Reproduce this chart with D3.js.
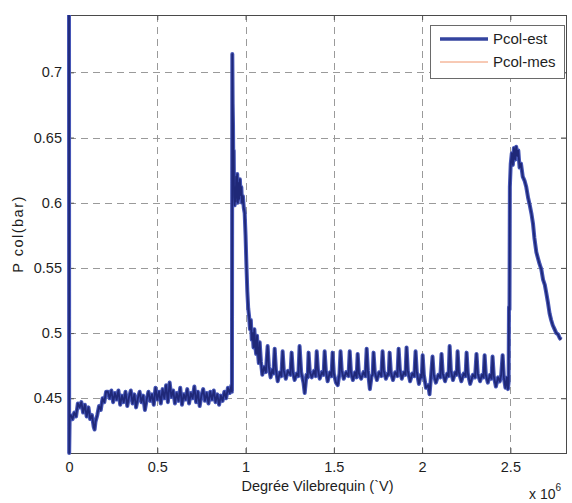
<!DOCTYPE html>
<html>
<head>
<meta charset="utf-8">
<script src="https://cdn.jsdelivr.net/npm/d3@7/dist/d3.min.js"></script>
<style>
  html, body { margin: 0; padding: 0; background: #fff; }
  svg { display: block; }
  text { font-family: "Liberation Sans", Arial, Helvetica, sans-serif; fill: #1e1e1e; }
</style>
</head>
<body>
<svg id="chart" width="572" height="503"></svg>
<script>
// ---- data (x in units of 10^6 degrees) ----
const xTicks = [0, 0.5, 1, 1.5, 2, 2.5];
const yTicks = [0.45, 0.5, 0.55, 0.6, 0.65, 0.7];
const seriesNames = ["Pcol-est", "Pcol-mes"];

const degX = [
  0.000, 0.001, 0.004, 0.01, 0.02, 0.03, 0.04, 0.05, 0.06, 0.07, 0.08, 0.09, 0.10, 0.11, 0.12, 0.13, 0.14, 0.145, 0.15,
  0.16, 0.17, 0.18, 0.19, 0.20, 0.21, 0.22, 0.23, 0.24, 0.25, 0.26, 0.27, 0.28, 0.29, 0.30, 0.31, 0.32, 0.33, 0.34,
  0.35, 0.36, 0.37, 0.38, 0.39, 0.40, 0.41, 0.42, 0.43, 0.44, 0.45, 0.46, 0.47, 0.48, 0.49, 0.50, 0.51, 0.52, 0.53,
  0.54, 0.55, 0.56, 0.57, 0.58, 0.59, 0.60, 0.61, 0.62, 0.63, 0.64, 0.65, 0.66, 0.67, 0.68, 0.69, 0.70, 0.71, 0.72,
  0.73, 0.74, 0.75, 0.76, 0.77, 0.78, 0.79, 0.80, 0.81, 0.82, 0.83, 0.84, 0.85, 0.86, 0.87, 0.88, 0.89, 0.90, 0.91,
  0.920, 0.923, 0.925, 0.927, 0.929, 0.931, 0.933, 0.935, 0.938, 0.941, 0.944, 0.947, 0.950, 0.953, 0.956, 0.960,
  0.964, 0.968, 0.972, 0.976, 0.980, 0.985, 0.990, 0.995, 1.000, 1.005, 1.010, 1.015, 1.020, 1.025, 1.030, 1.035,
  1.040, 1.045, 1.050, 1.055, 1.060, 1.065, 1.070, 1.075, 1.080, 1.087, 1.095, 1.105, 1.115, 1.125, 1.132, 1.142,
  1.152, 1.158, 1.165, 1.172, 1.182, 1.195, 1.203, 1.210, 1.217, 1.228, 1.240, 1.254, 1.261, 1.268, 1.278, 1.290,
  1.299, 1.306, 1.315, 1.328, 1.335, 1.345, 1.352, 1.357, 1.364, 1.375, 1.388, 1.397, 1.403, 1.410, 1.420, 1.433,
  1.442, 1.448, 1.455, 1.465, 1.478, 1.487, 1.493, 1.500, 1.512, 1.522, 1.532, 1.538, 1.545, 1.556, 1.570, 1.583,
  1.590, 1.597, 1.608, 1.620, 1.629, 1.635, 1.642, 1.655, 1.668, 1.679, 1.686, 1.693, 1.704, 1.714, 1.720, 1.725,
  1.732, 1.744, 1.757, 1.769, 1.776, 1.783, 1.795, 1.806, 1.811, 1.816, 1.823, 1.835, 1.848, 1.860, 1.867, 1.874,
  1.885, 1.897, 1.906, 1.912, 1.919, 1.932, 1.945, 1.956, 1.963, 1.970, 1.982, 1.993, 1.998, 2.003, 2.010, 2.022,
  2.035, 2.042, 2.050, 2.059, 2.066, 2.078, 2.092, 2.103, 2.110, 2.117, 2.130, 2.142, 2.150, 2.156, 2.163, 2.175,
  2.188, 2.196, 2.201, 2.208, 2.222, 2.236, 2.246, 2.252, 2.259, 2.272, 2.288, 2.300, 2.308, 2.315, 2.328, 2.340,
  2.348, 2.354, 2.361, 2.372, 2.385, 2.393, 2.399, 2.406, 2.418, 2.430, 2.440, 2.448, 2.456, 2.463, 2.472, 2.480,
  2.486, 2.490, 2.492, 2.495, 2.497, 2.502, 2.508, 2.514, 2.520, 2.527, 2.533, 2.539, 2.545, 2.552, 2.560, 2.570,
  2.580, 2.590, 2.600, 2.610, 2.620, 2.628, 2.636, 2.647, 2.655, 2.665, 2.675, 2.685, 2.695, 2.703, 2.712, 2.722,
  2.731, 2.740, 2.750, 2.760, 2.770, 2.780, 2.788
];

const pEst = [
  0.744, 0.408, 0.437, 0.437, 0.434, 0.439, 0.436, 0.446, 0.443, 0.447, 0.439, 0.445, 0.436, 0.443, 0.434, 0.437, 0.428, 0.426, 0.432,
  0.437, 0.444, 0.441, 0.450, 0.447, 0.455, 0.455, 0.450, 0.456, 0.447, 0.454, 0.449, 0.456, 0.445, 0.452, 0.447, 0.455, 0.444, 0.451,
  0.456, 0.446, 0.453, 0.443, 0.450, 0.455, 0.447, 0.452, 0.441, 0.449, 0.455, 0.448, 0.453, 0.445, 0.458, 0.449, 0.455, 0.446, 0.457,
  0.450, 0.460, 0.447, 0.462, 0.451, 0.456, 0.446, 0.454, 0.448, 0.458, 0.445, 0.453, 0.449, 0.457, 0.446, 0.454, 0.450, 0.459, 0.447,
  0.455, 0.444, 0.452, 0.457, 0.448, 0.454, 0.446, 0.455, 0.449, 0.456, 0.447, 0.453, 0.445, 0.452, 0.448, 0.455, 0.450, 0.458, 0.454,
  0.460, 0.455, 0.714, 0.676, 0.660, 0.625, 0.640, 0.605, 0.598, 0.612, 0.601, 0.620, 0.604, 0.622, 0.600, 0.615,
  0.603, 0.618, 0.606, 0.612, 0.600, 0.605, 0.596, 0.592, 0.575, 0.552, 0.532, 0.519, 0.513, 0.503, 0.510, 0.495,
  0.500, 0.489, 0.503, 0.490, 0.484, 0.498, 0.485, 0.477, 0.493, 0.478, 0.468, 0.474, 0.470, 0.490, 0.474, 0.466,
  0.472, 0.469, 0.488, 0.472, 0.463, 0.470, 0.467, 0.486, 0.471, 0.465, 0.471, 0.468, 0.485, 0.470, 0.464, 0.469,
  0.467, 0.490, 0.470, 0.462, 0.454, 0.468, 0.466, 0.485, 0.470, 0.466, 0.471, 0.467, 0.486, 0.472, 0.465, 0.470,
  0.468, 0.486, 0.471, 0.463, 0.470, 0.467, 0.485, 0.469, 0.462, 0.460, 0.469, 0.486, 0.471, 0.465, 0.470, 0.467,
  0.486, 0.470, 0.464, 0.470, 0.466, 0.484, 0.469, 0.465, 0.470, 0.467, 0.488, 0.471, 0.457, 0.467, 0.468, 0.485,
  0.470, 0.464, 0.470, 0.467, 0.486, 0.471, 0.465, 0.469, 0.468, 0.485, 0.470, 0.464, 0.470, 0.467, 0.488, 0.472,
  0.465, 0.470, 0.468, 0.489, 0.471, 0.463, 0.469, 0.467, 0.486, 0.470, 0.461, 0.468, 0.466, 0.483, 0.468, 0.458,
  0.460, 0.453, 0.466, 0.482, 0.468, 0.462, 0.468, 0.466, 0.484, 0.469, 0.463, 0.469, 0.467, 0.490, 0.471, 0.464,
  0.470, 0.468, 0.486, 0.470, 0.463, 0.469, 0.467, 0.485, 0.469, 0.461, 0.468, 0.466, 0.484, 0.469, 0.463, 0.468,
  0.466, 0.483, 0.468, 0.462, 0.468, 0.465, 0.482, 0.467, 0.459, 0.466, 0.463, 0.468, 0.483, 0.466, 0.458, 0.466,
  0.457, 0.462, 0.520, 0.518, 0.612, 0.630, 0.638, 0.629, 0.642, 0.633, 0.643, 0.636, 0.640, 0.627, 0.630, 0.620,
  0.617, 0.612, 0.604, 0.598, 0.591, 0.584, 0.573, 0.562, 0.558, 0.553, 0.549, 0.541, 0.537, 0.531, 0.524, 0.515,
  0.510, 0.506, 0.503, 0.500, 0.499, 0.496, 0.495
];

// measured series read identical to the estimate at this resolution
const pMes = pEst;

// ---- layout ----
const svg = d3.select("#chart");
const L = 69, R = 566, T = 15, B = 453;
const x = d3.scaleLinear().domain([0, 2.815]).range([L, R]);
const y = d3.scaleLinear().domain([0.408, 0.744]).range([B, T]);

svg.append("rect").attr("width", 572).attr("height", 503).attr("fill", "#fff");

// grid
const grid = svg.append("g").attr("stroke", "#9a9a9a").attr("stroke-width", 1).attr("stroke-dasharray", "7,5");
grid.selectAll(".gx").data(xTicks.filter(d => d > 0)).join("line")
  .attr("x1", d => Math.round(x(d)) + 0.5).attr("x2", d => Math.round(x(d)) + 0.5)
  .attr("y1", T).attr("y2", B);
grid.selectAll(".gy").data(yTicks).join("line")
  .attr("y1", d => Math.round(y(d)) + 0.5).attr("y2", d => Math.round(y(d)) + 0.5)
  .attr("x1", L).attr("x2", R);

// axes
const fmt = d => String(+d.toFixed(2));
const ax = svg.append("g").attr("transform", `translate(0,${B})`)
  .call(d3.axisBottom(x).tickValues(xTicks).tickSize(-5).tickPadding(9).tickFormat(fmt));
const axTop = svg.append("g").attr("transform", `translate(0,${T})`)
  .call(d3.axisTop(x).tickValues(xTicks).tickSize(-5).tickFormat(""));
const ay = svg.append("g").attr("transform", `translate(${L},0)`)
  .call(d3.axisLeft(y).tickValues(yTicks).tickSize(-5).tickPadding(7).tickFormat(fmt));
const ayR = svg.append("g").attr("transform", `translate(${R},0)`)
  .call(d3.axisRight(y).tickValues(yTicks).tickSize(-5).tickFormat(""));
[ax, axTop, ay, ayR].forEach(g => {
  g.select(".domain").remove();
  g.selectAll("line").attr("stroke", "#555");
  g.selectAll("text").attr("font-size", 14.5).attr("fill", "#1e1e1e")
    .attr("font-family", '"Liberation Sans", Arial, sans-serif');
});

// box
svg.append("rect").attr("x", L + 0.5).attr("y", T + 0.5).attr("width", R - L).attr("height", B - T)
  .attr("fill", "none").attr("stroke", "#4a4a4a").attr("stroke-width", 1);

// lines
const pts = (ys) => degX.map((d, i) => [d, ys[i]]);
const line = d3.line().x(d => x(d[0])).y(d => y(d[1]));
svg.append("path").datum(pts(pMes)).attr("d", line)
  .attr("fill", "none").attr("stroke", "#f4a07a").attr("stroke-width", 1);
svg.append("path").datum(pts(pEst)).attr("d", line)
  .attr("fill", "none").attr("stroke", "#4656b6").attr("stroke-width", 4).attr("stroke-linejoin", "round");
svg.append("path").datum(pts(pEst)).attr("d", line)
  .attr("fill", "none").attr("stroke", "#1f2878").attr("stroke-width", 1.8).attr("stroke-linejoin", "round");

// labels
svg.append("text").attr("x", (L + R) / 2).attr("y", 491).attr("text-anchor", "middle")
  .attr("font-size", 14.5).text("Degrée Vilebrequin (`V)");
svg.append("text").attr("transform", "translate(23,234) rotate(-90)").attr("text-anchor", "middle")
  .attr("font-size", 14.5).attr("letter-spacing", 1.5).text("P col(bar)");
const ex = svg.append("text").attr("x", 529).attr("y", 499).attr("font-size", 14);
ex.append("tspan").text("x 10");
ex.append("tspan").attr("dy", -8).attr("font-size", 10).text("6");

// legend
const lg = svg.append("g");
lg.append("rect").attr("x", 430.5).attr("y", 25.5).attr("width", 134).attr("height", 53)
  .attr("fill", "#fff").attr("stroke", "#6a6a6a").attr("stroke-width", 1);
const legY = [39, 62];
const legColor = ["#34449f", "#f0946a"];
const legW = [3.6, 1];
seriesNames.forEach((n, i) => {
  lg.append("line").attr("x1", 440).attr("x2", 488).attr("y1", legY[i]).attr("y2", legY[i])
    .attr("stroke", legColor[i]).attr("stroke-width", legW[i]);
  lg.append("text").attr("x", 493).attr("y", legY[i]).attr("dy", "0.35em")
    .attr("font-size", 15).text(n);
});
</script>
</body>
</html>
